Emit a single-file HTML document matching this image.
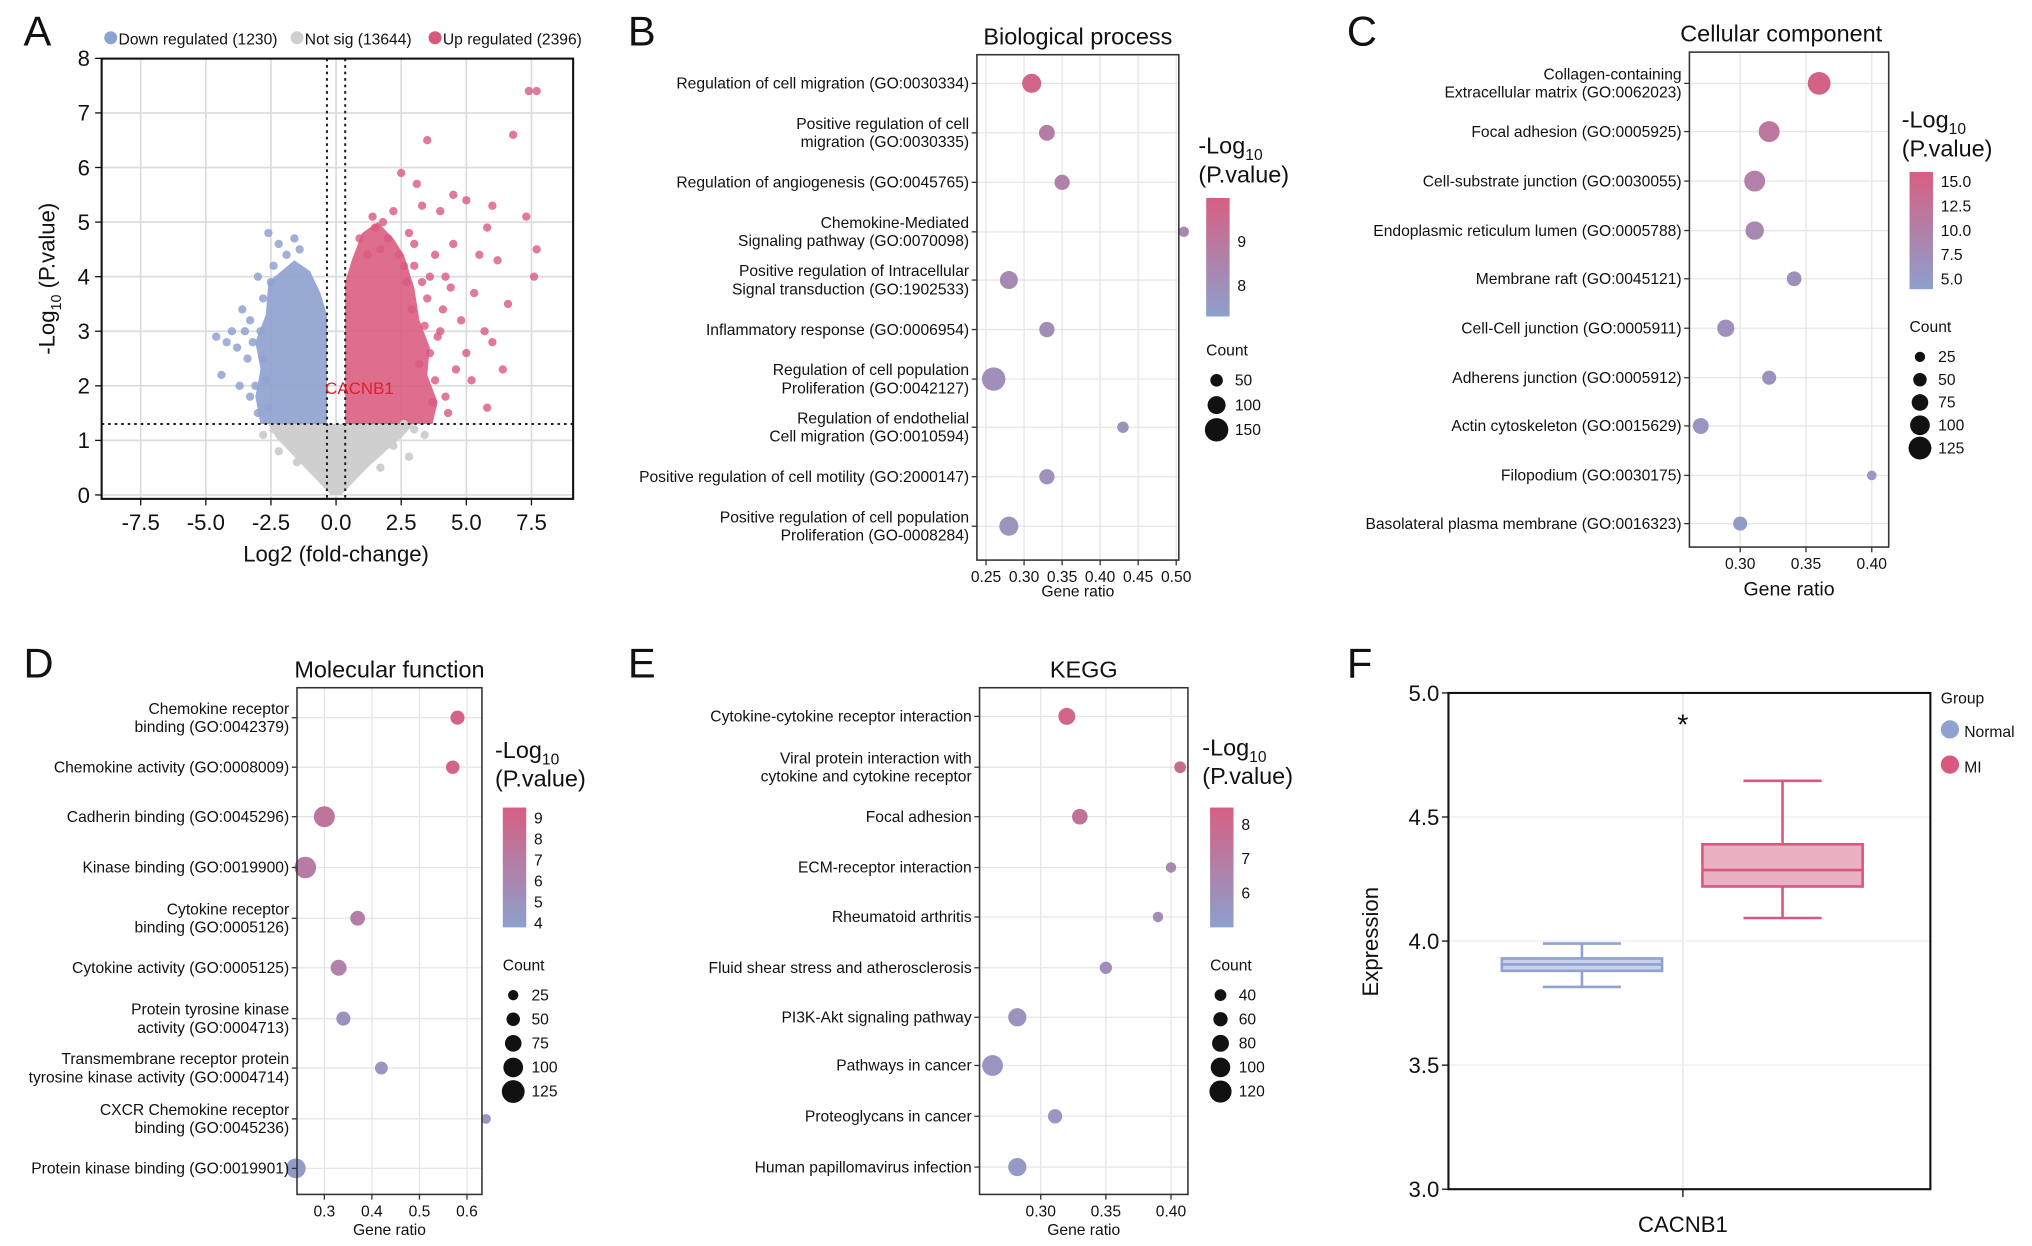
<!DOCTYPE html>
<html><head><meta charset="utf-8"><style>
html,body{margin:0;padding:0;background:#fff}
svg{display:block;font-family:"Liberation Sans",Arial,sans-serif}
</style></head><body>
<svg id="fig" width="2032" height="1246" viewBox="0 0 1560 956.6" xmlns="http://www.w3.org/2000/svg"></svg>
<script>
// ---------- DATA ----------
const volcUp=[[7.4,7.4],[7.7,7.4],[6.8,6.6],[3.5,6.5],[7.3,5.1],[7.7,4.5],[7.6,4.0],[4.5,5.5],[5,5.4],[3.1,5.7],[2.5,5.9],[5.8,4.9],[6,5.3],[4,5.2],[3.3,5.3],[1.8,5],[1.5,4.9],[2,4.7],[4.5,4.6],[5.5,4.4],[6.2,4.3],[4.2,4.0],[3.8,4.4],[3,4.2],[5.3,3.7],[6.6,3.5],[4.8,3.2],[5.7,3.0],[4,3],[3.5,3.6],[6,2.8],[5,2.6],[4.6,2.3],[3.8,2.1],[4.2,1.8],[5.2,2.1],[2.8,4.8],[2.4,4.4],[3.3,3.9],[1.2,4.4],[4.4,3.8],[3.6,2.6],[6.4,2.3],[2.9,3.4],[5.8,1.6],[3.9,2.9],[3.4,3.1],[3.2,2.4],[3.7,1.7],[4.3,1.5],[2.7,3.9],[2.2,5.2],[1.4,5.1],[0.9,4.7],[3.0,4.6],[3.6,4.0],[4.1,3.4],[2.6,4.2],[1.7,4.5]];
const volcDown=[[-2.6,4.8],[-2.2,4.6],[-1.6,4.7],[-3.3,3.2],[-3.6,3.4],[-4.2,2.8],[-4.0,3.0],[-3.8,2.7],[-3.0,4.0],[-2.8,3.6],[-3.4,2.5],[-4.6,2.9],[-4.4,2.2],[-3.1,2.0],[-2.7,2.1],[-3.0,1.5],[-2.4,4.2],[-3.7,2.0],[-2.9,3.0],[-3.2,2.8],[-2.8,2.5],[-3.3,1.8],[-2.6,1.6],[-1.9,4.4],[-1.4,4.5],[-2.5,3.9],[-3.5,3.0]];
const volcNs=[[2.6,1.3],[3.4,1.1],[-2.4,1.2],[-1.8,1.0],[2.2,0.9],[-2.8,1.1],[3.0,1.2],[-2.2,0.8],[2.8,0.7],[-1.5,0.6],[1.7,0.5]];
const bpTerms=[["Regulation of cell migration (GO:0030334)"],["Positive regulation of cell","migration (GO:0030335)"],["Regulation of angiogenesis (GO:0045765)"],["Chemokine-Mediated","Signaling pathway (GO:0070098)"],["Positive regulation of Intracellular","Signal transduction (GO:1902533)"],["Inflammatory response (GO:0006954)"],["Regulation of cell population","Proliferation (GO:0042127)"],["Regulation of endothelial","Cell migration (GO:0010594)"],["Positive regulation of cell motility (GO:2000147)"],["Positive regulation of cell population","Proliferation (GO-0008284)"]];
const bpRatio=[0.31,0.33,0.35,0.51,0.28,0.33,0.26,0.43,0.33,0.28];
const bpCount=[110,80,75,30,100,75,150,40,75,110];
const bpLogP=[9.8,8.8,8.6,8.3,8.2,8.1,8.0,7.9,7.9,7.8];
const ccTerms=[["Collagen-containing","Extracellular matrix (GO:0062023)"],["Focal adhesion (GO:0005925)"],["Cell-substrate junction (GO:0030055)"],["Endoplasmic reticulum lumen (GO:0005788)"],["Membrane raft (GO:0045121)"],["Cell-Cell junction (GO:0005911)"],["Adherens junction (GO:0005912)"],["Actin cytoskeleton (GO:0015629)"],["Filopodium (GO:0030175)"],["Basolateral plasma membrane (GO:0016323)"]];
const ccRatio=[0.36,0.322,0.311,0.311,0.341,0.289,0.322,0.270,0.400,0.300];
const ccCount=[125,110,110,90,60,80,55,70,20,55];
const ccLogP=[15.5,11.5,10,8.5,7,6.8,6.5,6,5.5,5];
const mfTerms=[["Chemokine receptor","binding (GO:0042379)"],["Chemokine activity (GO:0008009)"],["Cadherin binding (GO:0045296)"],["Kinase binding (GO:0019900)"],["Cytokine receptor","binding (GO:0005126)"],["Cytokine activity (GO:0005125)"],["Protein tyrosine kinase","activity (GO:0004713)"],["Transmembrane receptor protein","tyrosine kinase activity (GO:0004714)"],["CXCR Chemokine receptor","binding (GO:0045236)"],["Protein kinase binding (GO:0019901)"]];
const mfRatio=[0.58,0.57,0.30,0.26,0.37,0.33,0.34,0.42,0.64,0.24];
const mfCount=[55,50,110,115,60,70,55,45,20,100];
const mfLogP=[9.2,9.0,7.6,7.0,6.8,6.5,5.0,4.6,4.5,4.2];
const kgTerms=[["Cytokine-cytokine receptor interaction"],["Viral protein interaction with","cytokine and cytokine receptor"],["Focal adhesion"],["ECM-receptor interaction"],["Rheumatoid arthritis"],["Fluid shear stress and atherosclerosis"],["PI3K-Akt signaling pathway"],["Pathways in cancer"],["Proteoglycans in cancer"],["Human papillomavirus infection"]];
const kgRatio=[0.32,0.407,0.33,0.40,0.39,0.35,0.282,0.263,0.311,0.282];
const kgCount=[80,40,70,30,30,45,90,110,60,90];
const kgLogP=[8.2,7.9,7.5,6.2,6.0,5.9,5.7,5.6,5.5,5.4];
const boxGroups=["Normal","MI"];
const boxStats=[[3.815,3.88,3.906,3.93,3.99],[4.093,4.22,4.286,4.39,4.646]];

// ---------- HELPERS ----------
const NS="http://www.w3.org/2000/svg";
const svg=document.getElementById('fig');
function mk(tag,attrs,parent,name,inter){const e=document.createElementNS(NS,tag);for(const k in attrs)e.setAttribute(k,attrs[k]);(parent||svg).appendChild(e);


return e;}
function txt(x,y,s,size,anchor,parent,name,extra){const t=mk('text',Object.assign({x:x,y:y,'font-size':size,'text-anchor':anchor||'start',fill:'#111'},extra||{}),parent,name);t.textContent=s;return t;}
function lerpCol(t){t=Math.max(0,Math.min(1,t));const a=[140,160,205],b=[215,95,130];const c=a.map((v,i)=>Math.round(v+(b[i]-v)*t));return `rgb(${c[0]},${c[1]},${c[2]})`;}
const PINK='#d9597e',BLUE='#8fa2cf';

[["A",18,35],["B",482,35],["C",1034,35],["D",18,520],["E",482,520],["F",1034,520]].forEach(l=>txt(l[1],l[2],l[0],32,'start',svg,'panel-label-'+l[0].toLowerCase()));

// ---------- PANEL A ----------
(function(){
const g=mk('g',{},svg,'volcano-plot');
const x0=78,x1=440,y0=45,y1=383;
const X=v=>258+v*20, Y=v=>380-v*41.9;
const P=pts=>pts.map((p,i)=>(i?'L':'M')+X(p[0]).toFixed(1)+','+Y(p[1]).toFixed(1)).join(' ')+' Z';
mk('rect',{x:x0,y:y0,width:x1-x0,height:y1-y0,fill:'#fff'},g,'plot-bg');
const xt=[-7.5,-5,-2.5,0,2.5,5,7.5];
xt.forEach(v=>{mk('line',{x1:X(v),x2:X(v),y1:y0,y2:y1,stroke:'#dcdcdc','stroke-width':1.3},g,'grid-x');});
for(let v=0;v<=8;v++)mk('line',{x1:x0,x2:x1,y1:Y(v),y2:Y(v),stroke:'#dcdcdc','stroke-width':1.3},g,'grid-y');
mk('path',{d:P([[-2.6,1.3],[-2.3,1.05],[-1.8,0.8],[-1.2,0.5],[-0.6,0.2],[-0.2,0.0],[0.2,0.0],[0.6,0.2],[1.2,0.5],[1.9,0.8],[2.5,1.05],[3.0,1.3]]),fill:'#cfcfcf'},g,'not-sig-cloud');
mk('path',{d:P([[-0.35,1.3],[-2.9,1.3],[-3.1,1.8],[-2.9,2.3],[-3.1,2.8],[-2.7,3.3],[-2.6,3.9],[-2.1,4.1],[-1.6,4.3],[-1.0,4.1],[-0.6,3.7],[-0.35,3.3]]),fill:BLUE,opacity:0.92},g,'down-regulated-cloud');
mk('path',{d:P([[0.35,1.3],[3.7,1.3],[3.9,1.7],[3.5,2.2],[3.6,2.7],[3.2,3.2],[3.0,3.8],[2.6,4.4],[2.2,4.7],[1.6,5.0],[1.0,4.8],[0.6,4.3],[0.35,3.9]]),fill:PINK,opacity:0.88},g,'up-regulated-cloud');
volcNs.forEach(p=>mk('circle',{cx:X(p[0]),cy:Y(p[1]),r:3.2,fill:'#cfcfcf'},g,'point-not-sig'));
volcDown.forEach(p=>mk('circle',{cx:X(p[0]),cy:Y(p[1]),r:3.2,fill:BLUE,opacity:0.85},g,'point-down'));
volcUp.forEach(p=>mk('circle',{cx:X(p[0]),cy:Y(p[1]),r:3.2,fill:PINK,opacity:0.8},g,'point-up'));
[-0.35,0.35].forEach(v=>mk('line',{x1:X(v),x2:X(v),y1:y0,y2:y1,stroke:'#222','stroke-dasharray':'2,3','stroke-width':1.6},g,'fc-threshold'));
mk('line',{x1:x0,x2:x1,y1:Y(1.3),y2:Y(1.3),stroke:'#222','stroke-dasharray':'2,3','stroke-width':1.6},g,'p-threshold');
txt(X(0.9),Y(1.85),'CACNB1',13,'middle',g,'gene-label',{fill:'#e0202a'});
mk('rect',{x:x0,y:y0,width:x1-x0,height:y1-y0,fill:'none',stroke:'#111','stroke-width':1.6},g,'plot-frame');
xt.forEach(v=>{mk('line',{x1:X(v),x2:X(v),y1:y1,y2:y1+5,stroke:'#111'},g,'tick');txt(X(v),y1+24,v.toFixed(1),17,'middle',g,'x-tick-label');});
for(let v=0;v<=8;v++){mk('line',{x1:x0-5,x2:x0,y1:Y(v),y2:Y(v),stroke:'#111'},g,'tick');txt(x0-9,Y(v)+6,String(v),17,'end',g,'y-tick-label');}
txt(258,431,'Log2 (fold-change)',17,'middle',g,'x-axis-title');
const yt=txt(0,0,'-Log',17,'middle',g,'y-axis-title',{transform:'translate(42,214) rotate(-90)'});
const s1=document.createElementNS(NS,'tspan');s1.setAttribute('font-size',11);s1.setAttribute('dy',5);s1.textContent='10';yt.appendChild(s1);
const s2=document.createElementNS(NS,'tspan');s2.setAttribute('dy',-5);s2.textContent=' (P.value)';yt.appendChild(s2);
const leg=[["Down regulated (1230)",BLUE,85],["Not sig (13644)",'#cfcfcf',228],["Up regulated (2396)",PINK,334]];
leg.forEach(l=>{mk('circle',{cx:l[2],cy:29,r:5,fill:l[1]},g,'legend-marker');txt(l[2]+6,34,l[0],12,'start',g,'legend-entry');});
})();

// ---------- DOT PLOTS ----------
function dotPlot(o){
const g=mk('g',{},svg,o.name);
const X=v=>o.xa+(v-o.x0v)*o.xs;
mk('rect',{x:o.bx0,y:o.by0,width:o.bx1-o.bx0,height:o.by1-o.by0,fill:'#fff'},g,'plot-bg');
o.xticks.forEach(v=>mk('line',{x1:X(v),x2:X(v),y1:o.by0,y2:o.by1,stroke:'#e6e6e6','stroke-width':1},g,'grid-x'));
o.rows.forEach(y=>mk('line',{x1:o.bx0,x2:o.bx1,y1:y,y2:y,stroke:'#e6e6e6','stroke-width':1},g,'grid-y'));
o.ratio.forEach((r,i)=>{const rad=o.rmin+(o.count[i]-o.cmin)/(o.cmax-o.cmin)*(o.rmax-o.rmin);
mk('circle',{cx:X(r),cy:o.rows[i],r:rad,fill:lerpCol((o.logp[i]-o.lmin)/(o.lmax-o.lmin))},g,'dot-'+i);});
mk('rect',{x:o.bx0,y:o.by0,width:o.bx1-o.bx0,height:o.by1-o.by0,fill:'none',stroke:'#333','stroke-width':1.2},g,'plot-frame');
o.terms.forEach((t,i)=>{const y=o.rows[i];mk('line',{x1:o.bx0-4,x2:o.bx0,y1:y,y2:y,stroke:'#333'},g,'tick');
if(t.length==1)txt(o.bx0-6,y+4,t[0],o.fs,'end',g,'term-label');else{txt(o.bx0-6,y-3,t[0],o.fs,'end',g,'term-label');txt(o.bx0-6,y+11,t[1],o.fs,'end',g,'term-label');}});
o.xticks.forEach((v,i)=>{mk('line',{x1:X(v),x2:X(v),y1:o.by1,y2:o.by1+4,stroke:'#333'},g,'tick');txt(X(v),o.by1+17,o.xlab[i],o.tfs,'middle',g,'x-tick-label');});
txt((o.bx0+o.bx1)/2,o.by1+o.xtOff,'Gene ratio',o.xtfs,'middle',g,'x-axis-title');
txt((o.bx0+o.bx1)/2+o.titleDx,o.by0-8,o.title,18,'middle',g,'chart-title');
const L=o.leg;
const t1=txt(L.x,L.y,'-Log',18,'start',g,'colorbar-title');
const a=document.createElementNS(NS,'tspan');a.setAttribute('font-size',12);a.setAttribute('dy',5);a.textContent='10';t1.appendChild(a);
txt(L.x,L.y+22,'(P.value)',18,'start',g,'colorbar-title');
const gid='grad'+o.name;const defs=mk('defs',{},g,'defs');const lg=mk('linearGradient',{id:gid,x1:0,y1:1,x2:0,y2:0},defs,'gradient');
mk('stop',{offset:0,'stop-color':lerpCol(0)},lg,'stop');mk('stop',{offset:1,'stop-color':lerpCol(1)},lg,'stop');
mk('rect',{x:L.x+6,y:L.cy0,width:18,height:L.cy1-L.cy0,fill:`url(#${gid})`},g,'colorbar');
L.cticks.forEach((v,i)=>{const y=L.cy1-(v-L.cmin)/(L.cmax-L.cmin)*(L.cy1-L.cy0);txt(L.x+30,y+4,L.clab[i],12,'start',g,'colorbar-tick');});
txt(L.x+6,L.sy,'Count',12,'start',g,'size-legend-title');
L.sizes.forEach((c,i)=>{const rad=o.rmin+(c-o.cmin)/(o.cmax-o.cmin)*(o.rmax-o.rmin);const y=L.sy+19+i*L.sgap;
mk('circle',{cx:L.x+14,cy:y,r:rad,fill:'#111'},g,'size-legend-dot');txt(L.x+28,y+4,String(c),12,'start',g,'size-legend-label');});
}
dotPlot({name:'biological-process',title:'Biological process',titleDx:0,terms:bpTerms,ratio:bpRatio,count:bpCount,logp:bpLogP,
bx0:750,bx1:905,by0:42,by1:430,rows:[64,102,140,178,215,253,291,328,366,404],xa:757,x0v:0.25,xs:584,
xticks:[0.25,0.30,0.35,0.40,0.45,0.50],xlab:['0.25','0.30','0.35','0.40','0.45','0.50'],fs:12,tfs:12,xtfs:12,xtOff:28,
rmin:4,rmax:9,cmin:30,cmax:150,lmin:7.3,lmax:10,
leg:{x:920,y:118,cy0:152,cy1:243,cticks:[8,9],clab:['8','9'],cmin:7.3,cmax:10,sy:273,sizes:[50,100,150],sgap:19}});
dotPlot({name:'cellular-component',title:'Cellular component',titleDx:-6,terms:ccTerms,ratio:ccRatio,count:ccCount,logp:ccLogP,
bx0:1297,bx1:1450,by0:40,by1:420,rows:[64,101,139,177,214,252,290,327,365,402],xa:1336,x0v:0.30,xs:1010,
xticks:[0.30,0.35,0.40],xlab:['0.30','0.35','0.40'],fs:12,tfs:12,xtfs:15,xtOff:37,
rmin:3.5,rmax:9,cmin:15,cmax:130,lmin:4,lmax:16,
leg:{x:1460,y:98,cy0:132,cy1:222,cticks:[5,7.5,10,12.5,15],clab:['5.0','7.5','10.0','12.5','15.0'],cmin:4,cmax:16,sy:255,sizes:[25,50,75,100,125],sgap:17.5}});
dotPlot({name:'molecular-function',title:'Molecular function',titleDx:0,terms:mfTerms,ratio:mfRatio,count:mfCount,logp:mfLogP,
bx0:228,bx1:370,by0:528,by1:917,rows:[551,589,627,666,705,743,782,820,859,897],xa:249,x0v:0.3,xs:365,
xticks:[0.3,0.4,0.5,0.6],xlab:['0.3','0.4','0.5','0.6'],fs:12,tfs:12,xtfs:12,xtOff:31,
rmin:3.5,rmax:9,cmin:15,cmax:130,lmin:3.8,lmax:9.5,
leg:{x:380,y:582,cy0:620,cy1:712,cticks:[4,5,6,7,8,9],clab:['4','5','6','7','8','9'],cmin:3.8,cmax:9.5,sy:745,sizes:[25,50,75,100,125],sgap:18.5}});
dotPlot({name:'kegg',title:'KEGG',titleDx:0,terms:kgTerms,ratio:kgRatio,count:kgCount,logp:kgLogP,
bx0:752,bx1:912,by0:528,by1:917,rows:[550,589,627,666,704,743,781,818,857,896],xa:799,x0v:0.30,xs:1000,
xticks:[0.30,0.35,0.40],xlab:['0.30','0.35','0.40'],fs:12,tfs:12,xtfs:12,xtOff:31,
rmin:4,rmax:8.5,cmin:30,cmax:120,lmin:5,lmax:8.5,
leg:{x:923,y:580,cy0:620,cy1:712,cticks:[6,7,8],clab:['6','7','8'],cmin:5,cmax:8.5,sy:745,sizes:[40,60,80,100,120],sgap:18.5}});

// ---------- PANEL F ----------
(function(){
const g=mk('g',{},svg,'boxplot');
const bx0=1112,bx1=1482,by0=532,by1=913;
const Y=v=>by0+(5-v)*(by1-by0)/2;
const cx=1292;const colors=[BLUE,PINK];const fills=['#c8d2ea','#eab1c3'];const centers=[1214.5,1368.5];const hw=61.5;const cap=30;
mk('line',{x1:cx,x2:cx,y1:by0,y2:by1,stroke:'#e3e3e3'},g,'grid-x');
[3,3.5,4,4.5,5].forEach(v=>mk('line',{x1:bx0,x2:bx1,y1:Y(v),y2:Y(v),stroke:'#eeeeee'},g,'grid-y'));
boxStats.forEach((s,i)=>{const c=centers[i];
mk('line',{x1:c,x2:c,y1:Y(s[0]),y2:Y(s[1]),stroke:colors[i],'stroke-width':2},g,'whisker-low');
mk('line',{x1:c,x2:c,y1:Y(s[3]),y2:Y(s[4]),stroke:colors[i],'stroke-width':2},g,'whisker-high');
mk('line',{x1:c-cap,x2:c+cap,y1:Y(s[0]),y2:Y(s[0]),stroke:colors[i],'stroke-width':2},g,'whisker-cap');
mk('line',{x1:c-cap,x2:c+cap,y1:Y(s[4]),y2:Y(s[4]),stroke:colors[i],'stroke-width':2},g,'whisker-cap');
mk('rect',{x:c-hw,y:Y(s[3]),width:2*hw,height:Y(s[1])-Y(s[3]),fill:fills[i],stroke:colors[i],'stroke-width':2},g,'box-'+boxGroups[i].toLowerCase());
mk('line',{x1:c-hw,x2:c+hw,y1:Y(s[2]),y2:Y(s[2]),stroke:colors[i],'stroke-width':2},g,'median');});
mk('rect',{x:bx0,y:by0,width:bx1-bx0,height:by1-by0,fill:'none',stroke:'#111','stroke-width':1.6},g,'plot-frame');
txt(cx,564,'*',22,'middle',g,'significance-star');
[3,3.5,4,4.5,5].forEach(v=>{mk('line',{x1:bx0-5,x2:bx0,y1:Y(v),y2:Y(v),stroke:'#111'},g,'tick');txt(bx0-7,Y(v)+6,v.toFixed(1),17,'end',g,'y-tick-label');});
mk('line',{x1:cx,x2:cx,y1:by1,y2:by1+6,stroke:'#111'},g,'tick');
txt(cx,946,'CACNB1',17,'middle',g,'x-tick-label');
txt(0,0,'Expression',17,'middle',g,'y-axis-title',{transform:'translate(1058,723) rotate(-90)'});
txt(1490,540,'Group',12,'start',g,'legend-title');
boxGroups.forEach((n,i)=>{mk('circle',{cx:1497,cy:560+i*27,r:7,fill:colors[i]},g,'legend-marker');txt(1508,566+i*27,n,12,'start',g,'legend-entry');});
})();
</script>
</body></html>
